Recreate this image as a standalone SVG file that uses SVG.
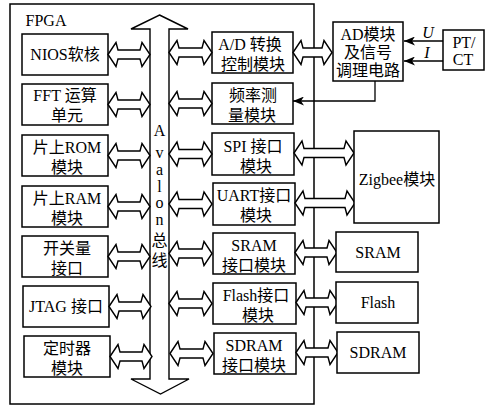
<svg xmlns="http://www.w3.org/2000/svg" xmlns:xlink="http://www.w3.org/1999/xlink" width="491" height="413" viewBox="0 0 491 413">
<style>
.box{fill:#fff;stroke:#000;stroke-width:1.5}
.frame{fill:none;stroke:#000;stroke-width:1.5}
.arr{fill:#fff;stroke:#000;stroke-width:1.4;stroke-linejoin:miter}
.ln{fill:none;stroke:#000;stroke-width:1.3}
text{font-family:"Liberation Serif","Noto Sans CJK SC",serif;font-size:16px;fill:#000;text-anchor:middle}
.it{font-style:italic}
</style>
<defs>
<path id="d42" d="M0,0 L8,-12 L10,-4.5 L32,-4.5 L34,-12 L42,0 L34,12 L32,4.5 L10,4.5 L8,12 Z"/>
<path id="d43" d="M0,0 L8,-12 L10,-4.5 L33,-4.5 L35,-12 L43,0 L35,12 L33,4.5 L10,4.5 L8,12 Z"/>
<path id="d39" d="M0,0 L8,-12 L10,-4.5 L29,-4.5 L31,-12 L39,0 L31,12 L29,4.5 L10,4.5 L8,12 Z"/>
<path id="d60" d="M0,0 L8,-12 L10,-4.5 L50,-4.5 L52,-12 L60,0 L52,12 L50,4.5 L10,4.5 L8,12 Z"/>
<marker id="ah" markerUnits="userSpaceOnUse" markerWidth="11" markerHeight="9" refX="11" refY="4.5" orient="auto">
<path d="M0,0 L11,4.5 L0,9 L3,4.5 Z" fill="#000"/>
</marker>
</defs>
<rect width="491" height="413" fill="#fff"/>

<g id="fpga">
<rect class="frame" x="10" y="4" width="304" height="400"/>
<text x="46" y="26">FPGA</text>
</g>

<g id="bus">
<polygon class="arr" points="159.5,15 188,29 169,29 169,379 189,379 160.5,394 131,379 150,379 150,29 131,29"/>
<text x="159.5" y="136">A</text>
<text x="159.5" y="158">v</text>
<text x="159.5" y="175">a</text>
<text x="159.5" y="192">l</text>
<text x="159.5" y="208">o</text>
<text x="159.5" y="225">n</text>
<text x="159.5" y="246">总</text>
<text x="159.5" y="266">线</text>
</g>

<g id="nios"><rect class="box" x="22" y="34" width="86" height="41"/><text x="65" y="60">NIOS软核</text></g>
<g id="fft"><rect class="box" x="22" y="84" width="86" height="41"/><text x="65" y="101">FFT 运算</text><text x="67" y="121">单元</text></g>
<g id="rom"><rect class="box" x="22" y="135" width="86" height="41"/><text x="67" y="153">片上ROM</text><text x="67" y="173">模块</text></g>
<g id="ram"><rect class="box" x="22" y="186" width="86" height="41"/><text x="67" y="204">片上RAM</text><text x="67" y="224">模块</text></g>
<g id="switch"><rect class="box" x="22" y="236" width="86" height="41"/><text x="67" y="254">开关量</text><text x="67" y="274">接口</text></g>
<g id="jtag"><rect class="box" x="23" y="286" width="86" height="41"/><text x="66" y="312">JTAG 接口</text></g>
<g id="timer"><rect class="box" x="24" y="336" width="86" height="41"/><text x="67" y="354">定时器</text><text x="67" y="374">模块</text></g>

<g id="adctl"><rect class="box" x="212" y="32" width="81" height="41"/><text x="250" y="50">A/D 转换</text><text x="253" y="70">控制模块</text></g>
<g id="freq"><rect class="box" x="212" y="83" width="81" height="41"/><text x="253" y="101">频率测</text><text x="252" y="121">量模块</text></g>
<g id="spi"><rect class="box" x="212" y="133" width="82" height="42"/><text x="253" y="152">SPI 接口</text><text x="256" y="172">模块</text></g>
<g id="uart"><rect class="box" x="213" y="183" width="82" height="42"/><text x="254" y="201">UART接口</text><text x="256" y="221">模块</text></g>
<g id="sramif"><rect class="box" x="213" y="233" width="82" height="41"/><text x="254" y="251">SRAM</text><text x="254" y="271">接口模块</text></g>
<g id="flashif"><rect class="box" x="213" y="283" width="83" height="41"/><text x="256" y="301">Flash接口</text><text x="258" y="321">模块</text></g>
<g id="sdramif"><rect class="box" x="214" y="333" width="82" height="41"/><text x="254" y="351">SDRAM</text><text x="254" y="371">接口模块</text></g>

<g id="connectors">
<use href="#d42" class="arr" x="108" y="54.5"/>
<use href="#d42" class="arr" x="108" y="104.5"/>
<use href="#d42" class="arr" x="108" y="155.5"/>
<use href="#d42" class="arr" x="108" y="206.5"/>
<use href="#d42" class="arr" x="108" y="256.5"/>
<use href="#d42" class="arr" x="109" y="306.5"/>
<use href="#d42" class="arr" x="110" y="356.5"/>
<use href="#d43" class="arr" x="169" y="52.5"/>
<use href="#d43" class="arr" x="169" y="103.5"/>
<use href="#d43" class="arr" x="169" y="154"/>
<use href="#d43" class="arr" x="169" y="204"/>
<use href="#d43" class="arr" x="169" y="253.5"/>
<use href="#d43" class="arr" x="169" y="303.5"/>
<use href="#d43" class="arr" x="170" y="353.5"/>
<use href="#d39" class="arr" x="293" y="52.5"/>
<use href="#d60" class="arr" x="294" y="153"/>
<use href="#d60" class="arr" x="295" y="203"/>
<use href="#d42" class="arr" x="295" y="252.5"/>
<use href="#d42" class="arr" x="296" y="302.5"/>
<use href="#d42" class="arr" x="296" y="352.5"/>
<line class="ln" x1="443" y1="41" x2="404" y2="41" marker-end="url(#ah)"/>
<line class="ln" x1="443" y1="61" x2="404" y2="61" marker-end="url(#ah)"/>
<polyline class="ln" points="375,81 375,101 293,101" marker-end="url(#ah)"/>
<text class="it" x="428" y="38">U</text>
<text class="it" x="427" y="58">I</text>
</g>

<g id="admod"><rect class="box" x="333" y="22" width="70" height="59"/><text x="368" y="40">AD模块</text><text x="368" y="58">及信号</text><text x="368" y="76">调理电路</text></g>
<g id="ptct"><rect class="box" x="443" y="30" width="41" height="40"/><text x="464" y="48">PT/</text><text x="463" y="65">CT</text></g>
<g id="zigbee"><rect class="box" x="354" y="131" width="85" height="92"/><text x="397" y="185">Zigbee模块</text></g>
<g id="sram"><rect class="box" x="336" y="232" width="82" height="40"/><text x="378" y="258">SRAM</text></g>
<g id="flash"><rect class="box" x="336" y="282" width="82" height="41"/><text x="378" y="308">Flash</text></g>
<g id="sdram"><rect class="box" x="337" y="332" width="82" height="41"/><text x="378" y="358">SDRAM</text></g>
</svg>
